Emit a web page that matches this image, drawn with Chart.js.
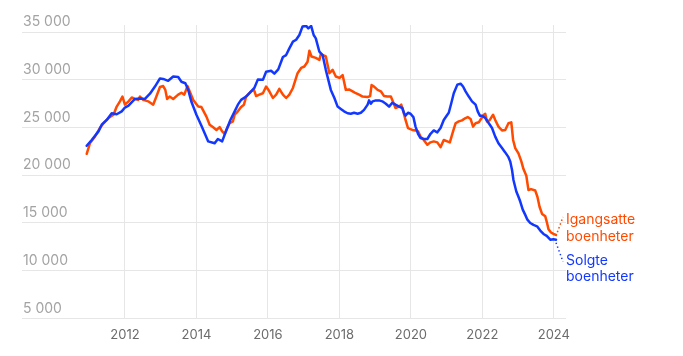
<!DOCTYPE html>
<html>
<head>
<meta charset="utf-8">
<script src="https://cdn.jsdelivr.net/npm/chart.js@4"></script>
<style>
  html, body { margin: 0; padding: 0; background: #fff; }
  #wrap { width: 683px; height: 356px; position: relative; }
</style>
</head>
<body>
<div id="wrap"><canvas id="c" width="683" height="356"></canvas></div>
<script>
// Solgte boenheter (blue) – decimal year and value
const soldYears = [2010.93,2011.07,2011.26,2011.35,2011.49,2011.63,2011.77,2011.91,2012.00,2012.10,2012.28,2012.42,2012.56,2012.70,2012.84,2012.98,2013.07,2013.21,2013.35,2013.49,2013.58,2013.69,2013.77,2013.86,2014.00,2014.14,2014.33,2014.51,2014.60,2014.72,2014.84,2014.95,2015.07,2015.16,2015.25,2015.39,2015.53,2015.62,2015.72,2015.86,2015.95,2016.09,2016.18,2016.29,2016.42,2016.51,2016.60,2016.70,2016.79,2016.88,2016.97,2017.07,2017.13,2017.21,2017.28,2017.34,2017.44,2017.53,2017.62,2017.76,2017.86,2017.95,2018.04,2018.13,2018.23,2018.32,2018.41,2018.51,2018.60,2018.69,2018.79,2018.83,2018.88,2018.93,2019.02,2019.11,2019.20,2019.30,2019.39,2019.48,2019.57,2019.67,2019.76,2019.81,2019.85,2019.92,2019.99,2020.07,2020.13,2020.20,2020.27,2020.36,2020.46,2020.55,2020.64,2020.74,2020.83,2020.92,2021.02,2021.06,2021.13,2021.20,2021.30,2021.39,2021.46,2021.53,2021.62,2021.71,2021.81,2021.87,2021.93,2021.99,2022.08,2022.18,2022.27,2022.36,2022.45,2022.55,2022.64,2022.73,2022.78,2022.83,2022.87,2022.95,2023.01,2023.06,2023.13,2023.20,2023.26,2023.34,2023.43,2023.53,2023.62,2023.71,2023.80,2023.90,2023.99,2024.06];
const soldValues = [23100,23700,24600,25300,25800,26500,26400,26700,27100,27300,28000,28050,28000,28550,29300,30150,30100,29900,30350,30300,29800,29650,28950,27700,26350,25200,23550,23350,23800,23550,24750,25800,26700,27400,27900,28250,28800,29150,30050,30000,30850,30950,30650,31100,32400,32600,33300,34000,34200,34700,35600,35650,35400,35650,34700,34350,32950,32600,31050,28950,28100,27200,26950,26700,26500,26450,26550,26450,26550,26850,27400,27850,27500,27750,27850,27850,27750,27500,27200,27600,27400,27200,27050,26500,26250,26550,26450,26100,25100,24350,23900,23800,23800,24350,24700,24500,24950,25800,26350,26550,27550,28600,29500,29600,29300,28800,28250,27750,27400,26700,26250,26250,26000,25450,24950,24050,23350,22850,22400,21900,21450,20550,19500,18300,17750,17250,16400,15850,15350,15000,14800,14650,14200,13850,13650,13250,13300,13250];

// Igangsatte boenheter (orange)
const startedYears = [2010.93,2011.02,2011.16,2011.30,2011.40,2011.54,2011.68,2011.77,2011.86,2011.93,2012.00,2012.10,2012.19,2012.28,2012.37,2012.42,2012.51,2012.65,2012.79,2012.88,2012.98,2013.07,2013.13,2013.18,2013.25,2013.35,2013.49,2013.58,2013.66,2013.75,2013.81,2013.91,2014.05,2014.14,2014.28,2014.37,2014.46,2014.56,2014.65,2014.72,2014.79,2014.88,2014.93,2015.02,2015.07,2015.16,2015.25,2015.33,2015.39,2015.44,2015.53,2015.61,2015.67,2015.76,2015.86,2015.95,2016.04,2016.14,2016.23,2016.32,2016.42,2016.51,2016.60,2016.70,2016.83,2016.93,2017.02,2017.11,2017.16,2017.22,2017.34,2017.44,2017.48,2017.62,2017.72,2017.81,2017.90,2018.00,2018.09,2018.18,2018.27,2018.37,2018.46,2018.55,2018.65,2018.79,2018.86,2018.90,2018.97,2019.07,2019.16,2019.25,2019.34,2019.44,2019.51,2019.57,2019.67,2019.73,2019.79,2019.85,2019.92,2020.04,2020.13,2020.20,2020.27,2020.36,2020.46,2020.55,2020.64,2020.74,2020.83,2020.92,2021.02,2021.09,2021.18,2021.25,2021.34,2021.43,2021.53,2021.59,2021.67,2021.74,2021.81,2021.90,2021.96,2022.04,2022.08,2022.13,2022.20,2022.30,2022.36,2022.45,2022.55,2022.64,2022.73,2022.81,2022.86,2022.92,2023.01,2023.09,2023.15,2023.23,2023.29,2023.36,2023.48,2023.54,2023.60,2023.67,2023.76,2023.81,2023.85,2023.92,2023.99,2024.06];
const startedValues = [22250,23350,24050,24950,25450,26000,26350,27200,27750,28250,27400,27750,28150,28000,27900,28250,27900,27750,27400,28250,29250,29350,28950,28000,28250,28000,28450,28650,28450,29350,28800,27900,27200,27150,26150,25300,25050,24750,25050,24600,24350,25100,25450,25650,26350,26700,27150,27400,28250,28450,28800,28950,28300,28450,28600,29300,28800,28100,28450,29050,28450,28100,28450,29150,30700,31250,31400,31900,33050,32450,32300,32100,32700,32450,30700,31050,30350,30200,30500,28950,29000,28800,28600,28450,28250,28200,28300,29450,29300,28950,28800,28300,28250,28250,27600,27050,27200,27400,26700,25800,24950,24750,24700,24600,24050,23700,23200,23450,23550,23450,22950,23700,23550,23450,24600,25450,25650,25750,26000,26100,25900,25100,25450,25550,25900,26350,26450,25650,25750,26350,25800,25100,24700,24750,25450,25550,23700,22850,22300,21450,20650,19950,18450,18550,18400,17750,16700,15950,15700,15000,14350,14000,13850,13750];

const xTickYears = [2012, 2014, 2016, 2018, 2020, 2022, 2024];
const yTickValues = [5000, 10000, 15000, 20000, 25000, 30000, 35000];
const seriesNames = [['Igangsatte', 'boenheter'], ['Solgte', 'boenheter']];

const ORANGE = '#FF4A00';
const BLUE = '#1238FF';

const toPoints = (xs, ys) => xs.map((x, i) => ({ x: x, y: ys[i] }));

const endLabels = {
  id: 'endLabels',
  afterDatasetsDraw(chart) {
    const ctx = chart.ctx;
    const area = chart.chartArea;
    const specs = [
      { ds: 1, color: ORANGE, names: seriesNames[0], dy: -11, tipDy: -18, startDy: 1 },
      { ds: 0, color: BLUE, names: seriesNames[1], dy: 25, tipDy: 22, startDy: 3 }
    ];
    ctx.save();
    specs.forEach(s => {
      const meta = chart.getDatasetMeta(s.ds);
      const last = meta.data[meta.data.length - 1];
      const px = last.x, py = last.y;
      ctx.strokeStyle = s.color;
      ctx.lineWidth = 1.5;
      ctx.setLineDash([1.5, 2.5]);
      ctx.beginPath();
      ctx.moveTo(px, py + s.startDy);
      ctx.lineTo(px + 7, py + s.tipDy);
      ctx.stroke();
      ctx.setLineDash([]);
      ctx.fillStyle = s.color;
      ctx.font = '14px Inter, "Noto Sans", sans-serif';
      ctx.textAlign = 'left';
      ctx.textBaseline = 'alphabetic';
      ctx.fillText(s.names[0], area.right, py + s.dy);
      ctx.fillText(s.names[1], area.right, py + s.dy + 16.7);
    });
    ctx.restore();
  }
};

new Chart(document.getElementById('c'), {
  type: 'line',
  data: {
    datasets: [
      {
        label: 'Solgte boenheter',
        data: toPoints(soldYears, soldValues),
        borderColor: BLUE,
        borderWidth: 2.5,
        pointRadius: 0,
        tension: 0,
        borderJoinStyle: 'round',
        borderCapStyle: 'round'
      },
      {
        label: 'Igangsatte boenheter',
        data: toPoints(startedYears, startedValues),
        borderColor: ORANGE,
        borderWidth: 2.5,
        pointRadius: 0,
        tension: 0,
        borderJoinStyle: 'round',
        borderCapStyle: 'round'
      }
    ]
  },
  options: {
    responsive: false,
    animation: false,
    devicePixelRatio: 1,
    layout: { padding: { left: 20, right: 117, top: 25, bottom: 4 } },
    plugins: { legend: { display: false }, tooltip: { enabled: false } },
    scales: {
      x: {
        type: 'linear',
        min: 2009.12,
        max: 2024.34,
        afterBuildTicks: (axis) => { axis.ticks = xTickYears.map(v => ({ value: v })); },
        grid: { color: '#e6e6e6', lineWidth: 1, drawTicks: false },
        border: { display: false },
        ticks: {
          color: '#6b6b6b',
          font: { family: 'Inter', size: 13 },
          padding: 9,
          maxRotation: 0,
          autoSkip: false,
          callback: (v) => String(v)
        }
      },
      y: {
        min: 5000,
        max: 35750,
        afterBuildTicks: (axis) => { axis.ticks = yTickValues.map(v => ({ value: v })); },
        grid: { color: '#e6e6e6', lineWidth: 1, drawTicks: false },
        border: { display: false },
        ticks: {
          mirror: true,
          padding: 1,
          labelOffset: -10,
          color: '#a3a3a3',
          font: { family: 'Inter', size: 14 },
          callback: (v) => String(v).replace(/\B(?=(\d{3})+(?!\d))/g, ' ')
        }
      }
    }
  },
  plugins: [endLabels]
});
</script>
</body>
</html>
